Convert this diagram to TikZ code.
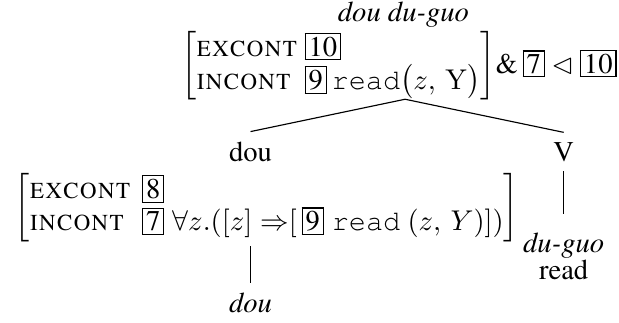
\documentclass[tikz,border=0pt]{standalone}
\usepackage[T1]{fontenc}
\usepackage{times}
\usepackage{latexsym}
\usetikzlibrary{positioning}

% boxed tags and feature names
\newcommand{\bx}[1]{{\setlength{\fboxsep}{1pt}\fbox{#1}}}
\newcommand{\feat}[1]{\textsc{#1}}
\renewcommand{\arraystretch}{0.85}

\begin{document}
\begin{tikzpicture}[
    avm/.style={inner sep=0pt, anchor=west},
    cat/.style={anchor=base},
    lex/.style={anchor=base, font=\itshape}
]
    \useasboundingbox (0,0) rectangle (7.61,-3.97);

    % Mother node
    \node[lex] (mother) at (4.96,-0.27) {dou du-guo};
    \node[avm] (topavm) at (2.22,-0.81) {%
        \(\left[\begin{array}{@{}l@{\hspace{2.5pt}}l@{}}
            \feat{excont} & \bx{10}\\
            \feat{incont} & \bx{9}\,\texttt{read}\bigl(z,\,\mathrm{Y}\bigr)
        \end{array}\right]\)\&\,\(\bx{7} \lhd \bx{10}\)};
    \coordinate (apex) at (4.98,-1.22);

    % Daughters
    \node[cat] (dou) at (3.08,-1.98) {dou};
    \node[cat] (v) at (6.93,-1.98) {V};
    \draw (apex) -- (dou.north);
    \draw (apex) -- (v.north);

    % Left daughter: quantifier
    \node[avm] (lowavm) at (0.17,-2.55) {%
        \(\left[\begin{array}{@{}l@{\hspace{4pt}}l@{}}
            \feat{excont} & \bx{8}\\
            \feat{incont} & \bx{7}\;\forall z.([z]\;{\Rightarrow}[\,\bx{9}\;\texttt{read}\ (z,\,Y)])
        \end{array}\right]\)};
    \coordinate (zpos) at (3.08,-3.03);
    \node[lex] (doulex) at (3.08,-3.84) {dou};
    \draw (zpos) -- (doulex.north);

    % Right daughter: verb
    \node[lex] (duguo) at (6.93,-3.10) {du-guo};
    \node[cat] (readlex) at (6.93,-3.43) {read};
    \draw[shorten >=3pt] (v.south) -- (duguo.north);
\end{tikzpicture}
\end{document}
